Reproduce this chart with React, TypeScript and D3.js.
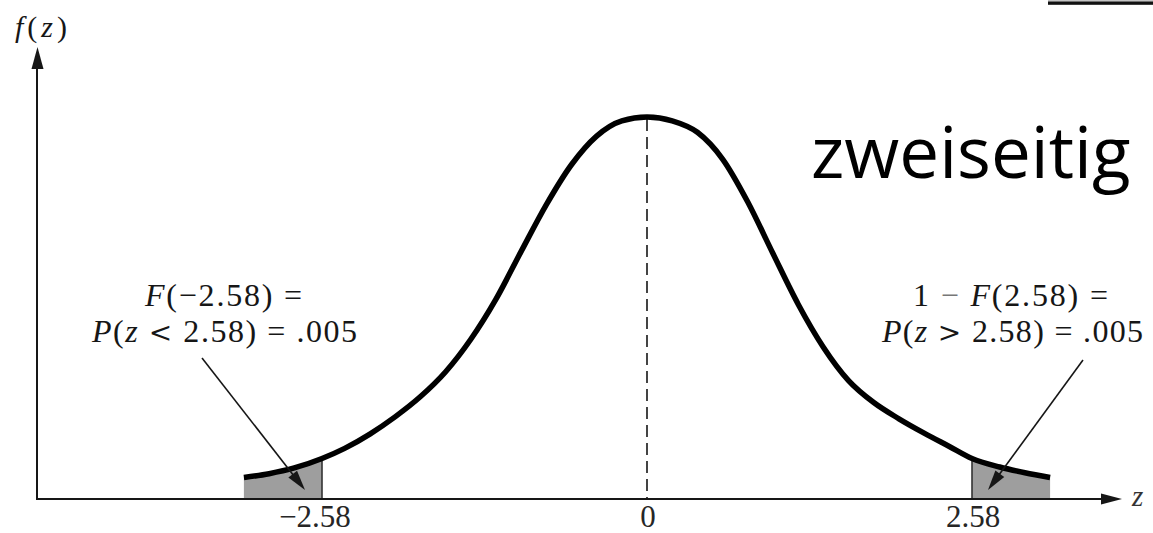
import React from 'react';
import * as d3 from 'd3';

// Bell curve f(z), sampled along z (heights of the drawn density)
const Z_VALUES = [
  -3.2, -3.0, -2.8, -2.58, -2.4, -2.2, -2.0, -1.8, -1.6, -1.4, -1.2, -1.0, -0.8, -0.6, -0.4, -0.2,
  0,
  0.2, 0.4, 0.6, 0.8, 1.0, 1.2, 1.4, 1.6, 1.8, 2.0, 2.2, 2.4, 2.58, 2.8, 3.0, 3.2,
];
const F_VALUES = [
  0.0225, 0.0265, 0.0325, 0.0424, 0.053, 0.068, 0.086, 0.107, 0.133, 0.167, 0.209, 0.259, 0.308, 0.35, 0.38, 0.396,
  0.4,
  0.396, 0.384, 0.356, 0.311, 0.257, 0.204, 0.159, 0.124, 0.101, 0.084, 0.069, 0.055, 0.0424, 0.0335, 0.0275, 0.0225,
];

const CRITICAL_Z = 2.58;
const TICK_VALUES = [-2.58, 0, 2.58];
const TICK_LABELS = ['\u22122.58', '0', '2.58'];
const TITLE = 'zweiseitig';

type Pt = { z: number; f: number };

const SERIF = '"Liberation Serif", "Times New Roman", serif';
const MATH = '"DejaVu Serif", serif';
const INK = '#161616';

function arrowHead(x1: number, y1: number, x2: number, y2: number, len: number, half: number) {
  const dx = x2 - x1;
  const dy = y2 - y1;
  const d = Math.hypot(dx, dy);
  const ux = dx / d;
  const uy = dy / d;
  const bx = x2 - ux * len;
  const by = y2 - uy * len;
  return `${x2},${y2} ${bx - uy * half},${by + ux * half} ${bx + uy * half},${by - ux * half}`;
}

export default function App() {
  const W = 1153;
  const H = 533;

  const x = d3.scaleLinear().domain([-CRITICAL_Z, CRITICAL_Z]).range([322, 972]);
  const y = d3.scaleLinear().domain([0, 0.4]).range([499, 117]);

  const pts: Pt[] = Z_VALUES.map((z, i) => ({ z, f: F_VALUES[i] }));
  const leftTail = pts.filter((p) => p.z <= -CRITICAL_Z + 1e-9);
  const rightTail = pts.filter((p) => p.z >= CRITICAL_Z - 1e-9);

  const line = d3
    .line<Pt>()
    .x((d) => x(d.z))
    .y((d) => y(d.f))
    .curve(d3.curveMonotoneX);

  const area = d3
    .area<Pt>()
    .x((d) => x(d.z))
    .y0(y(0))
    .y1((d) => y(d.f))
    .curve(d3.curveMonotoneX);

  const axisX0 = 37;
  const baseY = y(0);
  const fAt = (z: number) => pts.find((p) => Math.abs(p.z - z) < 1e-9)!.f;

  // annotation arrows
  const leftArrow = { x1: 202, y1: 358, x2: 305, y2: 490 };
  const rightArrow = { x1: 1083, y1: 360, x2: 988, y2: 490 };
  const shaft = (a: typeof leftArrow) => {
    const d = Math.hypot(a.x2 - a.x1, a.y2 - a.y1);
    const k = (d - 16) / d;
    return { x2: a.x1 + (a.x2 - a.x1) * k, y2: a.y1 + (a.y2 - a.y1) * k };
  };
  const ls = shaft(leftArrow);
  const rs = shaft(rightArrow);

  return (
    <svg
      width={W}
      height={H}
      viewBox={`0 0 ${W} ${H}`}
      style={{ position: 'absolute', left: 0, top: 0, background: '#fff' }}
    >
      <rect x={0} y={0} width={W} height={H} fill="#fff" />

      {/* frame edge at the top right */}
      <rect x={1048} y={0.5} width={W - 1048} height={1.5} fill="#8a8a8a" />
      <rect x={1048} y={1.8} width={W - 1048} height={3} fill="#111" />

      {/* shaded tails */}
      <path d={area(leftTail) || ''} fill="#9e9e9e" />
      <path d={area(rightTail) || ''} fill="#9e9e9e" />
      <line
        x1={x(-CRITICAL_Z)}
        x2={x(-CRITICAL_Z)}
        y1={baseY}
        y2={y(fAt(-CRITICAL_Z))}
        stroke="#333"
        strokeWidth={1.6}
      />
      <line
        x1={x(CRITICAL_Z)}
        x2={x(CRITICAL_Z)}
        y1={baseY}
        y2={y(fAt(CRITICAL_Z))}
        stroke="#333"
        strokeWidth={1.6}
      />

      {/* dashed centre line */}
      <line
        x1={x(0)}
        x2={x(0)}
        y1={y(0.4) + 2}
        y2={baseY}
        stroke={INK}
        strokeWidth={1.6}
        strokeDasharray="12 6"
      />

      {/* axes */}
      <line x1={axisX0} x2={axisX0} y1={baseY + 1} y2={66} stroke={INK} strokeWidth={2} />
      <polygon points={`${axisX0 + 0.5},47 ${axisX0 - 5.5},69 ${axisX0 + 6.5},69`} fill={INK} />
      <line x1={axisX0 - 1} x2={1104} y1={baseY} y2={baseY} stroke={INK} strokeWidth={2} />
      <polygon points={`1122,${baseY} 1101,${baseY - 5.5} 1101,${baseY + 5.5}`} fill={INK} />

      {/* density curve */}
      <path d={line(pts) || ''} fill="none" stroke="#000" strokeWidth={5.5} strokeLinecap="butt" />

      {/* tick labels */}
      {TICK_VALUES.map((v, i) => (
        <text
          key={v}
          x={x(v) + (v < 0 ? -7 : 1)}
          y={527}
          textAnchor="middle"
          fontFamily={SERIF}
          fontSize={31}
          fill="#262626"
        >
          {TICK_LABELS[i]}
        </text>
      ))}

      {/* axis titles */}
      <text x={15} y={37} fontFamily={SERIF} fontSize={30} fill={INK} textLength={52} lengthAdjust="spacing">
        <tspan fontStyle="italic">f</tspan>(<tspan fontStyle="italic">z</tspan>)
      </text>
      <text x={1132} y={506} fontFamily={SERIF} fontSize={29} fontStyle="italic" fill="#333">
        z
      </text>

      {/* left annotation */}
      <text x={145} y={306} fontFamily={SERIF} fontSize={32} fill={INK} textLength={157} lengthAdjust="spacing">
        <tspan fontStyle="italic">F</tspan>({'\u2212'}2.58) =
      </text>
      <text x={92} y={342} fontFamily={SERIF} fontSize={32} fill={INK} textLength={265} lengthAdjust="spacing">
        <tspan fontStyle="italic">P</tspan>(<tspan fontStyle="italic">z</tspan>{' '}
        <tspan fontFamily={MATH} fontSize={28}>
          {'<'}
        </tspan>{' '}
        2.58) = .005
      </text>

      {/* right annotation */}
      <text x={913} y={306} fontFamily={SERIF} fontSize={32} fill={INK} textLength={195} lengthAdjust="spacing">
        1 <tspan fill="#777">{'\u2212'}</tspan> <tspan fontStyle="italic">F</tspan>(2.58) =
      </text>
      <text x={882} y={342} fontFamily={SERIF} fontSize={32} fill={INK} textLength={261} lengthAdjust="spacing">
        <tspan fontStyle="italic">P</tspan>(<tspan fontStyle="italic">z</tspan>{' '}
        <tspan fontFamily={MATH} fontSize={28}>
          {'>'}
        </tspan>{' '}
        2.58) = .005
      </text>

      {/* arrows */}
      <line x1={leftArrow.x1} y1={leftArrow.y1} x2={ls.x2} y2={ls.y2} stroke={INK} strokeWidth={1.6} />
      <polygon
        points={arrowHead(leftArrow.x1, leftArrow.y1, leftArrow.x2, leftArrow.y2, 20, 5.5)}
        fill={INK}
      />
      <line x1={rightArrow.x1} y1={rightArrow.y1} x2={rs.x2} y2={rs.y2} stroke={INK} strokeWidth={1.6} />
      <polygon
        points={arrowHead(rightArrow.x1, rightArrow.y1, rightArrow.x2, rightArrow.y2, 20, 5.5)}
        fill={INK}
      />

      {/* title */}
      <text x={811} y={178} fontFamily={'"Open Sans", "Noto Sans", sans-serif'} fontSize={71} fill="#000">
        {TITLE}
      </text>
    </svg>
  );
}
